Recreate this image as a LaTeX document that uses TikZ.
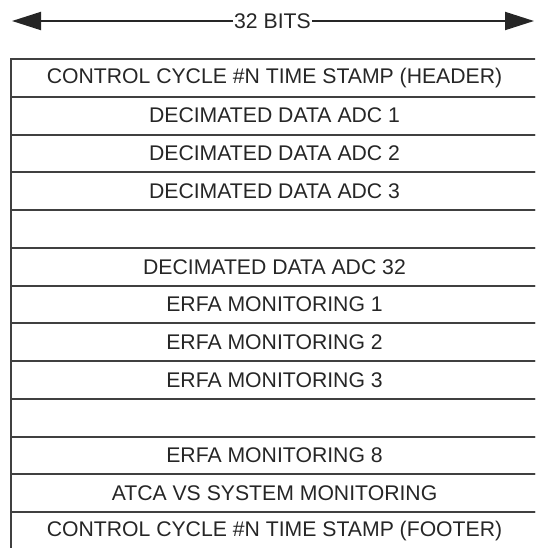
\documentclass[tikz,border=0pt]{standalone}
\usepackage{fontspec}
\setmainfont{Liberation Sans}
\usetikzlibrary{arrows.meta}
\begin{document}
\begin{tikzpicture}[x=1pt,y=-1pt,
  rowbox/.style={draw=black!75, line width=2pt, minimum width=527pt, minimum height=37.77pt,
    inner sep=0pt, anchor=north west, text=black!85, font=\fontsize{21.2}{25}\selectfont},
  bitsarrow/.style={line width=2pt, draw=black!85, -{Triangle[length=29pt,width=18pt]}}]
\useasboundingbox (0,0) rectangle (535,548);
\clip (0,0) rectangle (535,548);
\foreach \i/\t in {0/{CONTROL CYCLE \#N TIME STAMP (HEADER)},
                   1/{DECIMATED DATA ADC 1},
                   2/{DECIMATED DATA ADC 2},
                   3/{DECIMATED DATA ADC 3},
                   4/{},
                   5/{DECIMATED DATA ADC 32},
                   6/{ERFA MONITORING 1},
                   7/{ERFA MONITORING 2},
                   8/{ERFA MONITORING 3},
                   9/{},
                   10/{ERFA MONITORING 8},
                   11/{ATCA VS SYSTEM MONITORING},
                   12/{CONTROL CYCLE \#N TIME STAMP (FOOTER)}}
  {\node[rowbox] (r\i) at (10,{58+37.77*\i}) {\t};}
\node[inner sep=1pt, text=black!85, font=\fontsize{21.2}{25}\selectfont] (bits) at (272.5,21) {32 BITS};
\coordinate (lefttip) at (12,21);
\coordinate (righttip) at (534,21);
\draw[bitsarrow] (bits.west) -- (lefttip);
\draw[bitsarrow] (bits.east) -- (righttip);
\end{tikzpicture}
\end{document}
